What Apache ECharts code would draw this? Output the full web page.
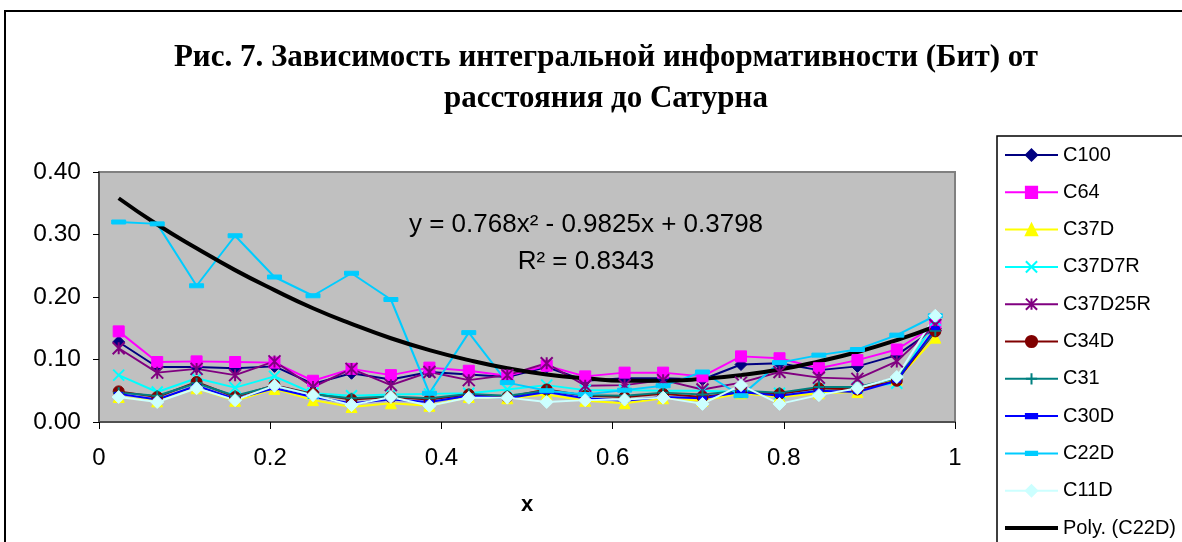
<!DOCTYPE html>
<html lang="ru">
<head>
    <meta charset="UTF-8">
    <title>Рис. 7</title>
    <style>
        html, body { margin: 0; padding: 0; background: #fff; }
        #main { width: 1182px; height: 542px; }
    </style>
</head>
<body>
<div id="main"></div>
<script src="https://cdn.jsdelivr.net/npm/echarts@6/dist/echarts.min.js"></script>
<script>
    const chart = echarts.init(document.getElementById('main'));

    // x positions of the points (distance to Saturn, normalised)
    const xs = [0.023, 0.068, 0.114, 0.159, 0.205, 0.25, 0.295, 0.341, 0.386, 0.432, 0.477,
                0.523, 0.568, 0.614, 0.659, 0.705, 0.75, 0.795, 0.841, 0.886, 0.932, 0.977];

    // values
    const c100    = [0.128, 0.088, 0.088, 0.086, 0.089, 0.061, 0.078, 0.068, 0.080, 0.076, 0.072,
                     0.088, 0.066, 0.070, 0.070, 0.068, 0.092, 0.094, 0.083, 0.089, 0.107, 0.150];
    const c64     = [0.145, 0.096, 0.097, 0.096, 0.095, 0.066, 0.085, 0.075, 0.087, 0.082, 0.074,
                     0.090, 0.073, 0.079, 0.079, 0.073, 0.105, 0.102, 0.086, 0.099, 0.116, 0.155];
    const c37d    = [0.040, 0.033, 0.054, 0.034, 0.053, 0.035, 0.024, 0.030, 0.026, 0.040, 0.038,
                     0.044, 0.034, 0.030, 0.038, 0.034, 0.046, 0.040, 0.046, 0.048, 0.068, 0.135];
    const c37d7r  = [0.075, 0.048, 0.070, 0.055, 0.073, 0.046, 0.042, 0.044, 0.045, 0.046, 0.052,
                     0.059, 0.051, 0.051, 0.050, 0.050, 0.048, 0.046, 0.053, 0.055, 0.062, 0.163];
    const c37d25r = [0.118, 0.079, 0.085, 0.075, 0.097, 0.056, 0.085, 0.059, 0.080, 0.067, 0.075,
                     0.094, 0.058, 0.059, 0.067, 0.052, 0.063, 0.080, 0.071, 0.069, 0.097, 0.155];
    const c34d    = [0.049, 0.040, 0.064, 0.040, 0.059, 0.045, 0.036, 0.040, 0.036, 0.044, 0.040,
                     0.052, 0.042, 0.040, 0.045, 0.040, 0.048, 0.045, 0.054, 0.052, 0.066, 0.145];
    const c31     = [0.047, 0.042, 0.062, 0.042, 0.058, 0.044, 0.038, 0.041, 0.038, 0.045, 0.042,
                     0.050, 0.043, 0.042, 0.047, 0.044, 0.050, 0.047, 0.056, 0.056, 0.070, 0.146];
    const c30d    = [0.045, 0.036, 0.058, 0.037, 0.054, 0.040, 0.030, 0.036, 0.032, 0.042, 0.038,
                     0.048, 0.038, 0.034, 0.040, 0.038, 0.048, 0.042, 0.050, 0.048, 0.066, 0.150];
    const c22d    = [0.320, 0.317, 0.218, 0.298, 0.232, 0.202, 0.238, 0.196, 0.046, 0.143, 0.063,
                     0.050, 0.044, 0.051, 0.058, 0.080, 0.042, 0.095, 0.107, 0.116, 0.139, 0.170];
    const c11d    = [0.040, 0.032, 0.054, 0.035, 0.058, 0.043, 0.027, 0.040, 0.026, 0.039, 0.039,
                     0.032, 0.035, 0.036, 0.039, 0.029, 0.059, 0.029, 0.043, 0.054, 0.072, 0.170];
    // polynomial trend of C22D
    const polyC22d = [0.358, 0.316, 0.278, 0.243, 0.211, 0.182, 0.157, 0.134, 0.115, 0.099, 0.086,
                      0.076, 0.070, 0.066, 0.066, 0.069, 0.075, 0.084, 0.097, 0.112, 0.131, 0.153];

    const title = 'Рис. 7. Зависимость интегральной информативности (Бит) от\nрасстояния до Сатурна';
    const equation = 'y = 0.768x² - 0.9825x + 0.3798\nR² = 0.8343';

    const FONT = '"Liberation Sans", Arial, sans-serif';

    const pairs = arr => arr.map((v, i) => [xs[i], v]);

    // marker shapes (the dashes keep a square box so the legend keeps their shape)
    const X_MARK = 'path://M0,0L10,10M10,0L0,10';
    const STAR_MARK = 'path://M0,0L10,10M10,0L0,10M5,0L5,10';
    const PLUS_MARK = 'path://M5,0L5,10M0,5L10,5';
    const SHORT_DASH = 'path://M0,0M8,8M0,2.5H8V5.5H0Z';
    const LONG_DASH = 'path://M0,0M14,14M0,5H14V9H0Z';

    function lineSeries(name, data, color, symbol, size, stroked) {
        return {
            name,
            type: 'line',
            data: pairs(data),
            symbol,
            symbolSize: size,
            symbolKeepAspect: true,
            lineStyle: {color, width: 2},
            itemStyle: {
                color: stroked ? 'rgba(0,0,0,0)' : color,
                borderColor: color,
                borderWidth: stroked ? 2 : 1
            },
            emphasis: {disabled: true}
        };
    }

    const option = {
        animation: false,
        title: {
            text: title,
            left: 601,
            top: 32,
            textAlign: 'center',
            textStyle: {
                fontFamily: '"Liberation Serif", "Times New Roman", serif',
                fontWeight: 'bold',
                fontSize: 31,
                lineHeight: 41,
                color: '#000'
            }
        },
        grid: {
            left: 99,
            right: 227,
            top: 172,
            bottom: 120,
            show: true,
            backgroundColor: '#C0C0C0',
            borderColor: '#808080',
            borderWidth: 2
        },
        xAxis: {
            type: 'value',
            min: 0,
            max: 1,
            interval: 0.2,
            name: 'x',
            nameLocation: 'middle',
            nameGap: 72,
            nameTextStyle: {fontFamily: FONT, fontWeight: 'bold', fontSize: 22, color: '#000'},
            axisLine: {show: true, onZero: false, lineStyle: {color: '#505050', width: 2}},
            axisTick: {show: true, inside: false, length: 7, lineStyle: {color: '#000', width: 1}},
            axisLabel: {
                fontFamily: FONT, fontSize: 24, color: '#000', margin: 24,
                formatter: v => String(parseFloat(v.toFixed(2)))
            },
            splitLine: {show: false}
        },
        yAxis: {
            type: 'value',
            min: 0,
            max: 0.4,
            interval: 0.1,
            axisLine: {show: true, lineStyle: {color: '#505050', width: 2}},
            axisTick: {show: true, inside: false, length: 6, lineStyle: {color: '#000', width: 1}},
            axisLabel: {
                fontFamily: FONT, fontSize: 24.5, color: '#000', margin: 18,
                formatter: v => v.toFixed(2)
            },
            splitLine: {show: false}
        },
        legend: {
            orient: 'vertical',
            left: 999,
            top: 140,
            height: 480,
            itemWidth: 53,
            itemHeight: 14,
            itemGap: 17.3,
            selectedMode: false,
            textStyle: {fontFamily: FONT, fontSize: 20, color: '#000', lineHeight: 20},
            data: ['C100', 'C64', 'C37D', 'C37D7R', 'C37D25R', 'C34D', 'C31', 'C30D', 'C22D', 'C11D',
                {name: 'Poly. (C22D)', icon: 'path://M0,0H53V4H0Z'}]
        },
        graphic: [
            {
                type: 'rect',
                z: -10,
                shape: {x: 5, y: 11, width: 1300, height: 700},
                style: {fill: 'none', stroke: '#000', lineWidth: 2},
                silent: true
            },
            {
                type: 'rect',
                z: 0,
                shape: {x: 997, y: 136, width: 300, height: 500},
                style: {fill: '#fff', stroke: '#000', lineWidth: 1.5},
                silent: true
            },
            {
                type: 'text',
                z: 10,
                x: 586,
                y: 243,
                style: {
                    text: equation,
                    align: 'center',
                    verticalAlign: 'middle',
                    fontFamily: FONT,
                    fontSize: 26,
                    lineHeight: 37,
                    fill: '#000'
                },
                silent: true
            }
        ],
        series: [
            lineSeries('C100', c100, '#000080', 'diamond', 12, false),
            lineSeries('C64', c64, '#FF00FF', 'rect', 11, false),
            lineSeries('C37D', c37d, '#FFFF00', 'triangle', 11, false),
            lineSeries('C37D7R', c37d7r, '#00FFFF', X_MARK, 11, true),
            lineSeries('C37D25R', c37d25r, '#800080', STAR_MARK, 12, true),
            lineSeries('C34D', c34d, '#800000', 'circle', 11, false),
            lineSeries('C31', c31, '#008080', PLUS_MARK, 11, true),
            lineSeries('C30D', c30d, '#0000FF', SHORT_DASH, 8, false),
            lineSeries('C22D', c22d, '#00CCFF', LONG_DASH, 14, false),
            lineSeries('C11D', c11d, '#CCFFFF', 'diamond', 13, false),
            {
                name: 'Poly. (C22D)',
                type: 'line',
                data: pairs(polyC22d),
                smooth: true,
                showSymbol: false,
                symbol: 'none',
                lineStyle: {color: '#000', width: 4},
                itemStyle: {color: '#000'},
                z: 3,
                emphasis: {disabled: true}
            }
        ]
    };

    chart.setOption(option);
</script>
</body>
</html>
